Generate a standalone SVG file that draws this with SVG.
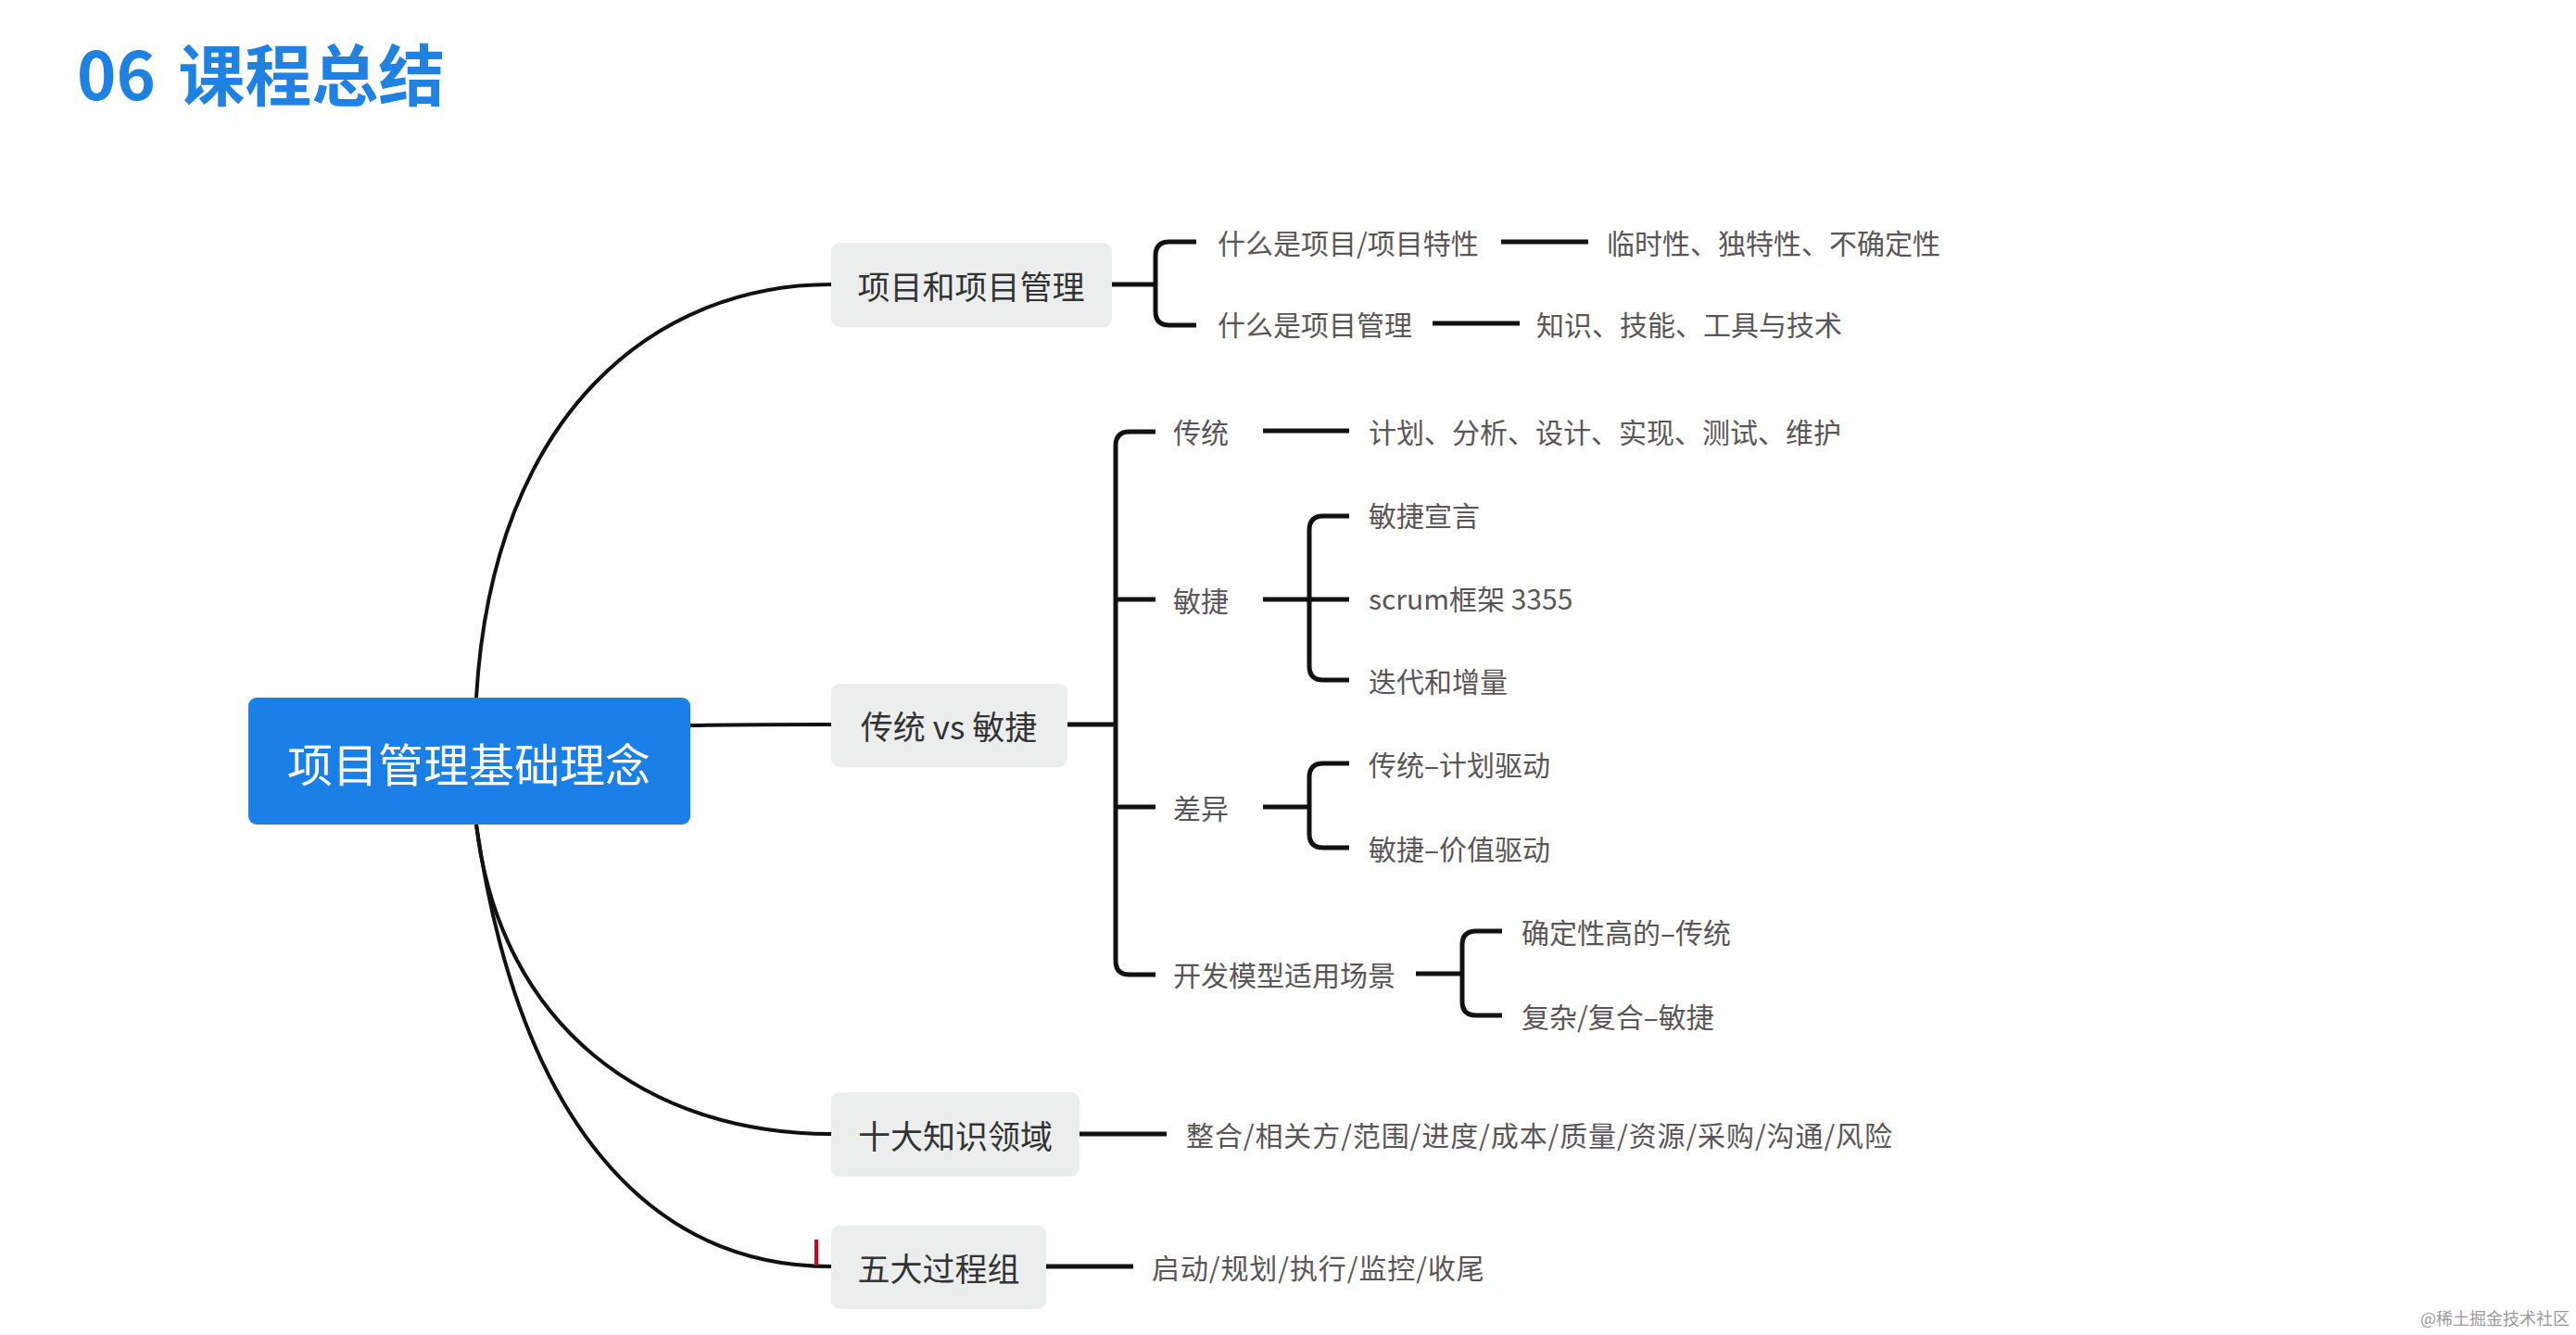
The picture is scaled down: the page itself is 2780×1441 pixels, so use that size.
<svg xmlns="http://www.w3.org/2000/svg" width="2780" height="1441" viewBox="0 0 2780 1441">
<style>
text{font-family:"Noto Sans CJK SC","Liberation Sans",sans-serif;dominant-baseline:central}
.title{font-size:72px;font-weight:bold;fill:#1f82e3;dominant-baseline:auto;word-spacing:8px}
.root{font-size:49px;fill:#ffffff}
.n1{font-size:35px;fill:#333333}
.leaf{font-size:30px;fill:#5a5557}
.wide{letter-spacing:0.9px}
.box{fill:#eceeee}
.con{fill:none;stroke:#111111;stroke-width:5;stroke-linecap:butt}
.curve{fill:none;stroke:#111111;stroke-width:4}
.wm{font-size:18px;fill:#9a9a9a;dominant-baseline:auto}
</style>
<rect width="2780" height="1441" fill="#ffffff"/>
<text class="title" x="83" y="108">06 课程总结</text>

<g id="connectors">
<path class="curve" d="M514 753 C532 443 709 307 897 307"/>
<path class="curve" d="M745 783 C800 782 850 782 897 782" stroke-width="5"/>
<path class="curve" d="M514 890 C540 1110 700 1224 897 1224"/>
<path class="curve" d="M514 890 C560 1210 700 1367 897 1367"/>
<path d="M881 1338 V1366" stroke="#d0021b" stroke-width="4" fill="none"/>
<path class="con" d="M1200 307 H1247"/>
<path class="con" d="M1291 261 H1262 Q1247 261 1247 276 V336 Q1247 351 1262 351 H1291"/>
<path class="con" d="M1620 261 H1714"/>
<path class="con" d="M1546 349 H1640"/>
<path class="con" d="M1152 782 H1204"/>
<path class="con" d="M1247 466 H1219 Q1204 466 1204 481 V1037 Q1204 1052 1219 1052 H1247"/>
<path class="con" d="M1204 647 H1247"/>
<path class="con" d="M1204 871 H1247"/>
<path class="con" d="M1363 465 H1456"/>
<path class="con" d="M1363 647 H1456"/>
<path class="con" d="M1456 557 H1428 Q1413 557 1413 572 V719 Q1413 734 1428 734 H1456"/>
<path class="con" d="M1363 871 H1413"/>
<path class="con" d="M1456 824 H1428 Q1413 824 1413 839 V900 Q1413 915 1428 915 H1456"/>
<path class="con" d="M1528 1051 H1578"/>
<path class="con" d="M1621 1005 H1593 Q1578 1005 1578 1020 V1081 Q1578 1096 1593 1096 H1621"/>
<path class="con" d="M1165 1224 H1259"/>
<path class="con" d="M1129 1367 H1223"/>
</g>

<g id="root">
<rect x="268" y="753" width="477" height="137" rx="9" fill="#1a7fe6"/>
<text class="root" x="506" y="822" text-anchor="middle">项目管理基础理念</text>
</g>

<g id="n-pm">
<rect class="box" x="897" y="262" width="303" height="91" rx="9"/>
<text class="n1" x="1048" y="307" text-anchor="middle">项目和项目管理</text>
</g>
<g id="n-tva">
<rect class="box" x="897" y="738" width="255" height="90" rx="9"/>
<text class="n1" x="1024" y="782" text-anchor="middle">传统 vs 敏捷</text>
</g>
<g id="n-ka">
<rect class="box" x="897" y="1179" width="268" height="91" rx="9"/>
<text class="n1" x="1031" y="1224" text-anchor="middle">十大知识领域</text>
</g>
<g id="n-pg">
<rect class="box" x="897" y="1323" width="232" height="90" rx="9"/>
<text class="n1" x="1013" y="1367" text-anchor="middle">五大过程组</text>
</g>

<g id="leaf-what-project"><text class="leaf" x="1314" y="261">什么是项目/项目特性</text></g>
<g id="leaf-traits"><text class="leaf" x="1734" y="261">临时性、独特性、不确定性</text></g>
<g id="leaf-what-pm"><text class="leaf" x="1314" y="349">什么是项目管理</text></g>
<g id="leaf-skills"><text class="leaf" x="1658" y="349">知识、技能、工具与技术</text></g>
<g id="leaf-trad"><text class="leaf" x="1266" y="465">传统</text></g>
<g id="leaf-trad-steps"><text class="leaf" x="1477" y="465">计划、分析、设计、实现、测试、维护</text></g>
<g id="leaf-agile"><text class="leaf" x="1266" y="647">敏捷</text></g>
<g id="leaf-manifesto"><text class="leaf" x="1477" y="555">敏捷宣言</text></g>
<g id="leaf-scrum"><text class="leaf" x="1477" y="645">scrum框架 3355</text></g>
<g id="leaf-iter"><text class="leaf" x="1477" y="734">迭代和增量</text></g>
<g id="leaf-diff"><text class="leaf" x="1266" y="871">差异</text></g>
<g id="leaf-diff1"><text class="leaf" x="1477" y="824">传统–计划驱动</text></g>
<g id="leaf-diff2"><text class="leaf" x="1477" y="915">敏捷–价值驱动</text></g>
<g id="leaf-scene"><text class="leaf" x="1266" y="1051">开发模型适用场景</text></g>
<g id="leaf-scene1"><text class="leaf" x="1642" y="1005">确定性高的–传统</text></g>
<g id="leaf-scene2"><text class="leaf" x="1642" y="1096">复杂/复合–敏捷</text></g>
<g id="leaf-ka"><text class="leaf wide" x="1280" y="1224">整合/相关方/范围/进度/成本/质量/资源/采购/沟通/风险</text></g>
<g id="leaf-pg"><text class="leaf wide" x="1243" y="1367">启动/规划/执行/监控/收尾</text></g>

<text class="wm" x="2612" y="1430">@稀土掘金技术社区</text>
</svg>
